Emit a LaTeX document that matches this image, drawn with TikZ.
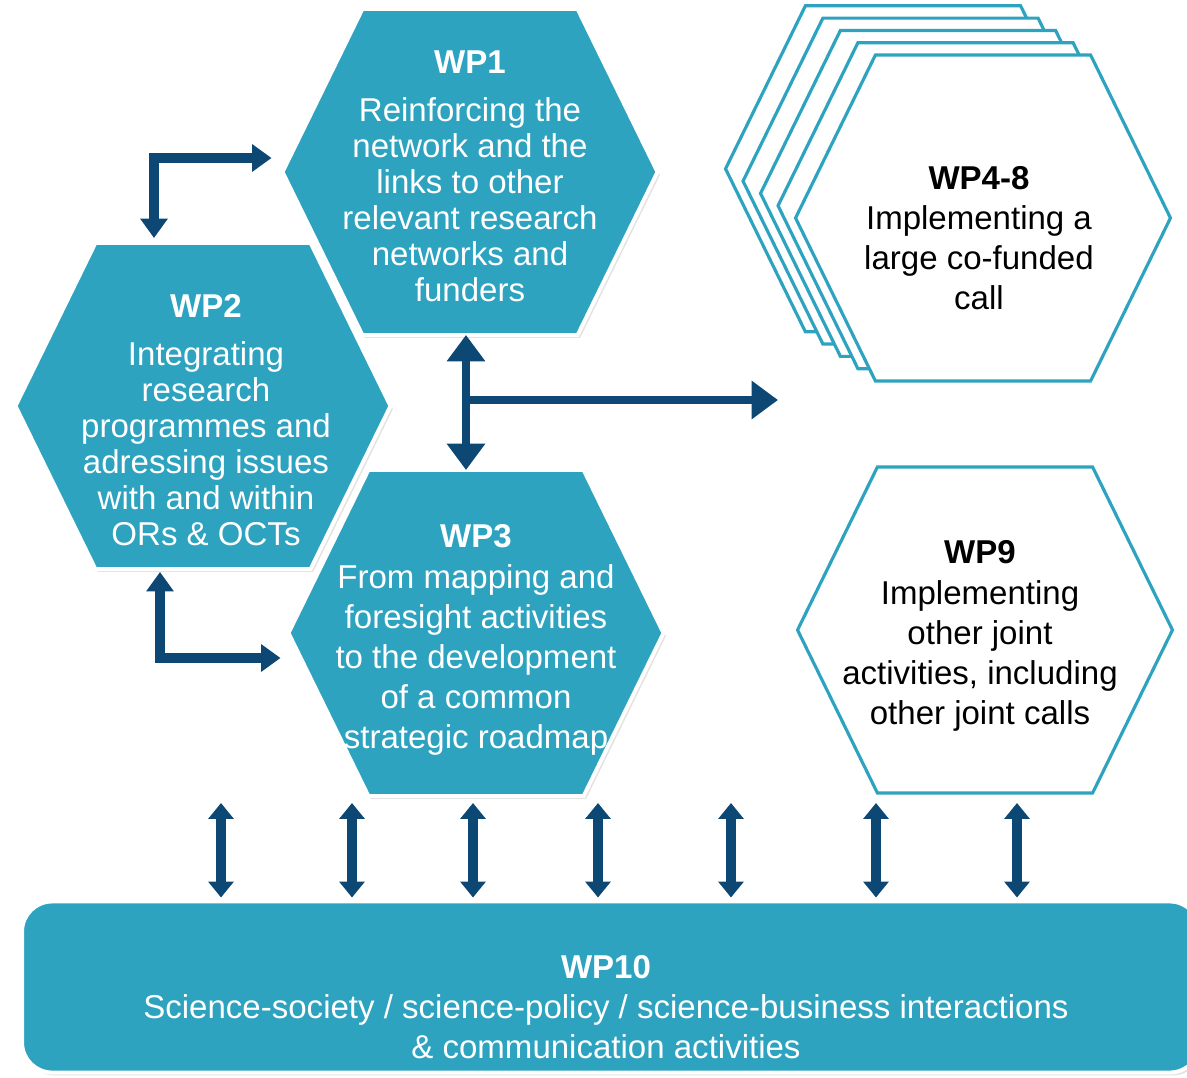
\documentclass[tikz,border=0pt]{standalone}
\usepackage{fontspec}
\setmainfont{Liberation Sans}
\usepackage{tikz}
\usetikzlibrary{arrows.meta, calc, positioning, shadows}
\definecolor{wpteal}{RGB}{45,163,192}
\definecolor{wpnavy}{RGB}{13,72,117}
\tikzset{
	wpframe/.style={rectangle, inner sep=0pt, outer sep=0pt,
		minimum width=7.5cm, minimum height=6.52cm},
	wpfill/.style={fill=wpteal, draw=white, line width=2.2pt,
		drop shadow={opacity=0.22, shadow xshift=0.05cm, shadow yshift=-0.06cm}},
	wpline/.style={fill=white, draw=wpteal, line width=1.8pt},
	wpbar/.style={rectangle, rounded corners=0.6cm, inner sep=0pt, outer sep=0pt,
		minimum width=23.56cm, minimum height=3.42cm,
		fill=wpteal, draw=white, line width=2.2pt,
		drop shadow={opacity=0.22, shadow xshift=0.05cm, shadow yshift=-0.06cm}},
	wptext/.style={align=center, inner sep=0pt, font=\fontsize{18.8}{22.8}\selectfont},
	wptight/.style={align=center, inner sep=0pt, font=\fontsize{18.8}{20.5}\selectfont},
	dblarrow/.style={draw=wpnavy, line width=5.5pt,
		>={Triangle[width=14pt,length=9pt]}, <->},
	elbowarrow/.style={draw=wpnavy, line width=5.5pt,
		>={Triangle[width=15pt,length=11pt]}, <->},
	bigarrow/.style={draw=wpnavy, line width=5pt,
		>={Triangle[width=21pt,length=15pt]}}
}
% hexagon drawn on the frame of a node
\newcommand{\hexa}[2]{\path[#2] (#1.west) -- ($(#1.north west)!0.213!(#1.north east)$)
	-- ($(#1.north east)!0.213!(#1.north west)$) -- (#1.east)
	-- ($(#1.south east)!0.213!(#1.south west)$)
	-- ($(#1.south west)!0.213!(#1.south east)$) -- cycle;}

\begin{document}
\begin{tikzpicture}[x=0.02cm, y=-0.02cm]
\useasboundingbox (0,0) rectangle (1187,1078);

% WP1 - WP3
\node[wpframe] (wp1) at (470,172) {};
\node[wpframe] (wp2) at (203,406) {};
\node[wpframe] (wp3) at (476,633) {};
\hexa{wp1}{wpfill}
\hexa{wp2}{wpfill}
\hexa{wp3}{wpfill}

% stack of calls behind WP4-8
\foreach \k in {4,3,2,1}{
	\node[wpframe] (wpback\k) at ({983-17.5*\k},{218-12.3*\k}) {};
	\hexa{wpback\k}{wpline}
}
\node[wpframe] (wp48) at (983,218) {};
\hexa{wp48}{wpline}
\node[wpframe] (wp9) at (985,630) {};
\hexa{wp9}{wpline}

\node[wpbar] (wp10) at (611,987) {};

% texts
\node[wptight, text=white] (wp1text) at ($(wp1)+(0,4)$)
	{\textbf{WP1}\\[6.8pt] Reinforcing the\\ network and the\\ links to other\\ relevant research\\ networks and\\ funders};
\node[wptight, text=white] (wp2text) at ($(wp2)+(3,14)$)
	{\textbf{WP2}\\[6.8pt] Integrating\\ research\\ programmes and\\ adressing issues\\ with and within\\ ORs \& OCTs};
\node[wptext, text=white] (wp3text) at ($(wp3)+(0,7)$)
	{\textbf{WP3}\\ From mapping and\\ foresight activities\\ to the development\\ of a common\\ strategic roadmap};
\node[wptext] (wp48text) at ($(wp48)+(-4,20)$)
	{\textbf{WP4-8}\\ Implementing a\\ large co-funded\\ call};
\node[wptext] (wp9text) at ($(wp9)+(-5,6)$)
	{\textbf{WP9}\\ Implementing\\ other joint\\ activities, including\\ other joint calls};
\node[wptext, text=white] (wp10text) at ($(wp10)+(-5,20)$)
	{\textbf{WP10}\\ Science-society / science-policy / science-business interactions\\ \& communication activities};

% links between the work packages
\coordinate (c12) at (154,158);
\coordinate (c23) at (160,658);
\draw[elbowarrow, shorten <=0.22cm, shorten >=0.1cm] (c12 -| wp1.west) -- (c12) -- (c12 |- wp2.north);
\draw[elbowarrow, shorten <=0.06cm, shorten >=0.16cm] (c23 |- wp2.south) -- (c23) -- (c23 -| wp3.west);

\coordinate (hub) at (466,400);
\coordinate (callin) at (778,400);
\draw[bigarrow, <->] (hub |- wp1.south) -- (hub |- wp3.north);
\draw[bigarrow, ->] (hub) -- (callin);

% links to WP10
\foreach \x in {221,352,473,598,731,876,1017}
	\draw[dblarrow, shorten >=0.08cm] (\x,803) -- (\x,0 |- wp10.north);

\end{tikzpicture}
\end{document}
